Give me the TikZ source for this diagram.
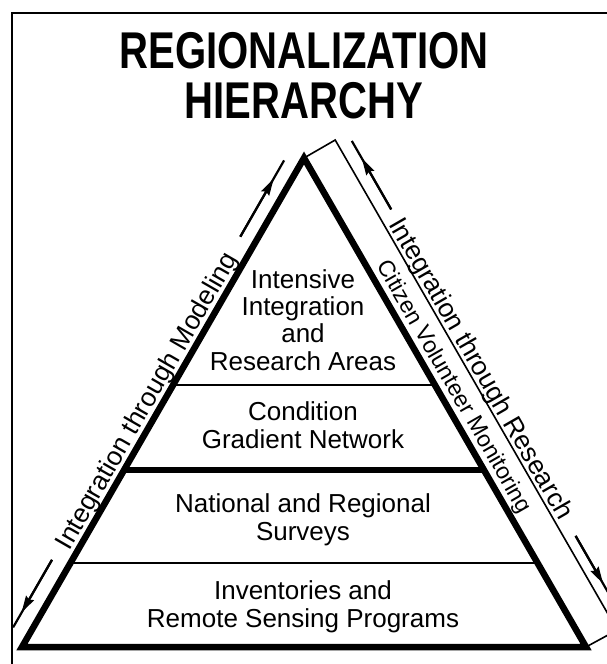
\documentclass[tikz,border=0pt]{standalone}
\usepackage{fontspec}
\usepackage{graphicx}
\setmainfont{Liberation Sans}
\usetikzlibrary{arrows.meta,calc}
\begin{document}
\begin{tikzpicture}[x=1pt,y=-1pt,
  side/.style={line width=6.5pt, line join=miter},
  thinline/.style={line width=1.8pt},
  thickline/.style={line width=5.5pt},
  bandline/.style={line width=1.6pt, line join=miter},
  bodytext/.style={font=\fontsize{26}{27.3}\selectfont, align=center, anchor=base, inner sep=0pt},
  sidetext/.style={font=\fontsize{26.5}{28}\selectfont, anchor=base, inner sep=0pt},
  arr/.style={line width=2.2pt},
  tipped/.style={-{Stealth[length=17pt,width=9pt,inset=2pt]}, line width=2.2pt}]
\clip (0,0) rectangle (607,664);
% frame
\draw[line width=2.2pt] (12,690) -- (12,13) -- (630,13);
% geometry
\coordinate (A) at (304,158);
\coordinate (BL) at (22,647);
\coordinate (BR) at (586,647);
\coordinate (T) at (335.2,140.0);
\coordinate (Bb) at (617.2,630.0);
% dividers
\draw[thinline] ($(A)!0.4642!(BL)$) -- ($(A)!0.4642!(BR)$);
\draw[thickline] ($(A)!0.6380!(BL)$) -- ($(A)!0.6380!(BR)$);
\draw[thinline] ($(A)!0.8282!(BL)$) -- ($(A)!0.8282!(BR)$);
% band
\draw[bandline] (A) -- (T) -- (Bb) -- (BR);
% triangle
\draw[side] (A) -- (BL) -- (BR) -- cycle;
% arrows
\coordinate (ulS) at (240.3,236.7);
\coordinate (ulT) at (273.7,178.6);
\coordinate (ulE) at (284.1,160.4);
\coordinate (llS) at (52.0,559.8);
\coordinate (llT) at (21.5,612.7);
\coordinate (llE) at (13.1,627.4);
\coordinate (urS) at (391.2,209.4);
\coordinate (urT) at (361.8,158.2);
\coordinate (urE) at (351.8,140.9);
\coordinate (lrS) at (575.6,535.9);
\coordinate (lrT) at (603.1,583.6);
\coordinate (lrE) at (624.0,620.0);
\draw[arr] (ulS) -- (ulE);
\draw[tipped] (ulS) -- (ulT);
\draw[arr] (llS) -- (llE);
\draw[tipped] (llS) -- (llT);
\draw[arr] (urS) -- (urE);
\draw[tipped] (urS) -- (urT);
\draw[arr] (lrS) -- (lrE);
\draw[tipped] (lrS) -- (lrT);
% title
\node[font=\bfseries\fontsize{51.7}{50}\selectfont, align=center, anchor=base, inner sep=0pt] (title) at (304,118)
  {\scalebox{0.775}[1]{REGIONALIZATION}\\\scalebox{0.775}[1]{HIERARCHY}};
% body texts (anchor base = last line)
\node[bodytext] (l1) at (303,370) {Intensive\\Integration\\and\\Research Areas};
\node[bodytext] (l2) at (303,448) {Condition\\Gradient Network};
\node[bodytext] (l3) at (303,540) {National and Regional\\Surveys};
\node[bodytext] (l4) at (303,627) {Inventories and\\Remote Sensing Programs};
% side labels
\node[sidetext, rotate=60.08] (lm) at (153.7,405.0) {Integration through Modeling};
\node[sidetext, rotate=-60.08] (ir) at (473.9,372.9) {Integration through Research};
\node[sidetext, font=\fontsize{23}{25}\selectfont, rotate=-60.08] (cv) at (448.0,390.1) {Citizen Volunteer Monitoring};
\end{tikzpicture}
\end{document}
